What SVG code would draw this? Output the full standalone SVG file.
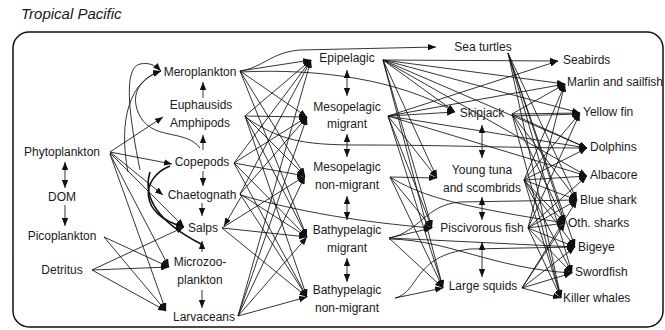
<svg xmlns="http://www.w3.org/2000/svg" width="665" height="330" viewBox="0 0 665 330">
<style>
text{font-family:"Liberation Sans",Arial,Helvetica,sans-serif;font-size:12px;fill:#1a1a1a}
.m{text-anchor:middle}
.t{font-size:15px;font-style:italic}
.e{fill:none;stroke:#111;stroke-width:0.85;marker-end:url(#a)}
.d{fill:none;stroke:#111;stroke-width:0.85;marker-end:url(#a);marker-start:url(#b)}
.c{fill:none;stroke:#111;stroke-width:0.85}
.k{stroke-width:1.6}
.fr{fill:none;stroke:#111;stroke-width:1.5}
</style>
<defs>
<marker id="a" viewBox="0 0 10 8" refX="10" refY="4" markerWidth="8" markerHeight="6.4" markerUnits="userSpaceOnUse" orient="auto"><path d="M0,0 L10,4 L0,8 z" fill="#111"/></marker>
<marker id="b" viewBox="0 0 10 8" refX="10" refY="4" markerWidth="8" markerHeight="6.4" markerUnits="userSpaceOnUse" orient="auto-start-reverse"><path d="M0,0 L10,4 L0,8 z" fill="#111"/></marker>
</defs>
<text class="t" x="21" y="19">Tropical Pacific</text>
<rect class="fr" x="13" y="32" width="650" height="295" rx="16"/>
<g id="connectors">
<!-- column 1 verticals -->
<path class="d" d="M65,162 L65,188"/>
<path class="e" d="M65,205 L65,226"/>
<!-- column 2 verticals -->
<path class="e" d="M203,98 L203,82"/>
<path class="e" d="M203,150 L203,135"/>
<path class="e" d="M203,171 L203,186"/>
<path class="e" d="M202,203 L202,216"/>
<path class="e" d="M202,252 L202,241"/>
<path class="e" d="M202,290 L202,308"/>
<!-- column 3 verticals -->
<path class="d" d="M347,70 L347,96"/>
<path class="d" d="M347,134 L347,157"/>
<path class="d" d="M347,196 L347,220"/>
<path class="d" d="M347,258 L347,282"/>
<!-- column 4 verticals -->
<path class="d" d="M482,125 L482,158"/>
<path class="d" d="M482,197 L482,220"/>
<path class="d" d="M482,242 L482,277"/>
<!-- col1 -> col2 -->
<path class="e" d="M110,152 L163,117"/>
<path class="e" d="M110,152 L172,164"/>
<path class="e" d="M110,152 L163,195"/>
<path class="e" d="M110,153 L184,227"/>
<path class="e" d="M110,154 L169,267"/>
<path class="e" d="M110,154 L166,311"/>
<path class="e" d="M104,237 L169,267"/>
<path class="e" d="M104,237 L166,311"/>
<path class="e" d="M92,270 L184,227"/>
<path class="e" d="M92,270 L169,267"/>
<path class="e" d="M92,270 L166,311"/>
<path class="e" d="M128,172 C118,120 130,80 161,71"/>
<path class="e" d="M140,170 C130,120 122,68 140,64 C150,62 156,66 161,71"/>
<path class="e" d="M200,148 C185,128 150,142 138,112 C130,92 142,78 161,71"/>
<path class="e k" d="M170,166 C140,178 138,215 184,227"/>
<path class="c k" d="M150,172 C140,205 170,228 201,244"/>
<!-- col2 -> col3 -->
<path class="e" d="M240,71 L311,60"/>
<path class="e" d="M240,71 L307,117"/>
<path class="e" d="M240,71 L305,176"/>
<path class="e" d="M240,71 L307,237"/>
<path class="e" d="M245,116 L311,60"/>
<path class="e" d="M245,116 L307,117"/>
<path class="e" d="M245,116 L305,176"/>
<path class="e" d="M245,116 L307,237"/>
<path class="e" d="M245,116 L307,297"/>
<path class="e" d="M234,163 L311,60"/>
<path class="e" d="M234,163 L307,117"/>
<path class="e" d="M234,163 L305,176"/>
<path class="e" d="M234,163 L307,237"/>
<path class="e" d="M234,163 L307,297"/>
<path class="e" d="M240,194 L311,60"/>
<path class="e" d="M240,194 L307,117"/>
<path class="e" d="M240,194 L307,237"/>
<path class="e" d="M240,194 L307,297"/>
<path class="e" d="M241,197 L224,226"/>
<path class="e" d="M222,228 L305,176"/>
<path class="e" d="M222,228 L307,237"/>
<path class="e" d="M222,228 L307,297"/>
<path class="e" d="M238,316 L311,60"/>
<path class="e" d="M238,316 L307,117"/>
<path class="e" d="M238,316 L305,176"/>
<path class="e" d="M238,316 L307,237"/>
<path class="e" d="M238,316 L307,297"/>
<!-- long curves col2 -> col4/5 -->
<path class="e" d="M240,71 C262,68 272,52 300,50 L436,47"/>
<path class="e" d="M240,72 C320,68 400,80 455,112"/>
<path class="e" d="M245,117 C280,140 300,145 360,145 C440,145 520,148 587,148"/>
<path class="e" d="M240,195 C300,212 360,222 432,228"/>
<!-- col3 -> col4 -->
<path class="e" d="M383,60 L455,112"/>
<path class="e" d="M383,60 L437,178"/>
<path class="e" d="M383,60 L432,228"/>
<path class="e" d="M383,60 L443,288"/>
<path class="e" d="M388,116 L455,112"/>
<path class="e" d="M388,116 L437,178"/>
<path class="e" d="M388,116 L432,228"/>
<path class="e" d="M388,116 L443,288"/>
<path class="e" d="M390,177 L437,178"/>
<path class="e" d="M390,177 L432,228"/>
<path class="e" d="M390,177 L443,288"/>
<path class="e" d="M389,238 L432,228"/>
<path class="e" d="M389,238 L443,288"/>
<path class="e" d="M395,298 L443,288"/>
<!-- col3 -> col5 -->
<path class="e" d="M383,60 L558,61"/>
<path class="e" d="M383,60 L565,84"/>
<path class="e" d="M383,60 L580,113"/>
<path class="e" d="M383,60 L587,148"/>
<path class="e" d="M383,60 L587,176"/>
<path class="e" d="M388,116 L558,61"/>
<path class="e" d="M388,116 L565,84"/>
<path class="e" d="M388,116 L587,148"/>
<path class="e" d="M388,116 L587,176"/>
<path class="e" d="M390,177 C420,195 450,205 565,223"/>
<path class="e" d="M389,238 L575,247"/>
<path class="e" d="M389,238 C420,232 425,205 460,202 L577,200"/>
<path class="e" d="M389,239 C450,240 490,268 572,273"/>
<path class="e" d="M395,298 C420,292 412,256 470,249 L575,247"/>
<!-- col4 -> col5 -->
<path class="e" d="M508,53 L577,200"/>
<path class="e" d="M508,53 L565,223"/>
<path class="e" d="M508,53 L575,247"/>
<path class="e" d="M508,53 L572,273"/>
<path class="e" d="M508,53 L561,298"/>
<path class="e" d="M512,114 L565,84"/>
<path class="e" d="M512,114 L580,113"/>
<path class="e" d="M512,116 L580,114"/>
<path class="e" d="M512,114 L587,148"/>
<path class="e" d="M512,114 L577,200"/>
<path class="e" d="M512,114 L565,223"/>
<path class="e" d="M512,114 L561,298"/>
<path class="e" d="M524,180 L565,84"/>
<path class="e" d="M524,180 L580,113"/>
<path class="e" d="M524,180 L587,148"/>
<path class="e" d="M524,180 L587,176"/>
<path class="e" d="M524,180 L577,200"/>
<path class="e" d="M524,180 L565,223"/>
<path class="e" d="M524,180 L575,247"/>
<path class="e" d="M524,180 L572,273"/>
<path class="e" d="M524,180 L561,298"/>
<path class="e" d="M528,228 L565,84"/>
<path class="e" d="M528,228 L580,113"/>
<path class="e" d="M528,228 L587,176"/>
<path class="e" d="M528,228 L577,200"/>
<path class="e" d="M528,228 L565,223"/>
<path class="e" d="M528,228 L575,247"/>
<path class="e" d="M528,228 L572,273"/>
<path class="e" d="M528,228 L561,298"/>
<path class="e" d="M522,288 L577,200"/>
<path class="e" d="M522,288 L565,223"/>
<path class="e" d="M522,288 L575,247"/>
<path class="e" d="M522,288 L572,273"/>
<path class="e" d="M522,288 L561,298"/>
</g>
<g id="phytoplankton"><text class="m" x="62" y="156">Phytoplankton</text></g>
<g id="dom"><text class="m" x="62" y="201">DOM</text></g>
<g id="picoplankton"><text class="m" x="62" y="240">Picoplankton</text></g>
<g id="detritus"><text class="m" x="62" y="274">Detritus</text></g>
<g id="meroplankton"><text class="m" x="200" y="76">Meroplankton</text></g>
<g id="euphausids"><text class="m" x="201" y="109">Euphausids</text><text class="m" x="200" y="127">Amphipods</text></g>
<g id="copepods"><text class="m" x="202" y="166">Copepods</text></g>
<g id="chaetognath"><text class="m" x="202" y="199">Chaetognath</text></g>
<g id="salps"><text class="m" x="203" y="232">Salps</text></g>
<g id="microzooplankton"><text class="m" x="200" y="266">Microzoo-</text><text class="m" x="200" y="284">plankton</text></g>
<g id="larvaceans"><text class="m" x="204" y="321">Larvaceans</text></g>
<g id="epipelagic"><text class="m" x="347" y="62">Epipelagic</text></g>
<g id="meso-migrant"><text class="m" x="347" y="111">Mesopelagic</text><text class="m" x="347" y="128">migrant</text></g>
<g id="meso-nonmigrant"><text class="m" x="347" y="171">Mesopelagic</text><text class="m" x="347" y="189">non-migrant</text></g>
<g id="bathy-migrant"><text class="m" x="347" y="234">Bathypelagic</text><text class="m" x="347" y="252">migrant</text></g>
<g id="bathy-nonmigrant"><text class="m" x="347" y="294">Bathypelagic</text><text class="m" x="347" y="312">non-migrant</text></g>
<g id="sea-turtles"><text class="m" x="483" y="51">Sea turtles</text></g>
<g id="skipjack"><text class="m" x="482" y="117">Skipjack</text></g>
<g id="young-tuna"><text class="m" x="482" y="174">Young tuna</text><text class="m" x="482" y="192">and scombrids</text></g>
<g id="piscivorous-fish"><text class="m" x="482" y="232">Piscivorous fish</text></g>
<g id="large-squids"><text class="m" x="483" y="290">Large squids</text></g>
<g id="seabirds"><text x="563" y="64">Seabirds</text></g>
<g id="marlin"><text x="567" y="86">Marlin and sailfish</text></g>
<g id="yellow-fin"><text x="583" y="116">Yellow fin</text></g>
<g id="dolphins"><text x="590" y="151">Dolphins</text></g>
<g id="albacore"><text x="590" y="179">Albacore</text></g>
<g id="blue-shark"><text x="580" y="204">Blue shark</text></g>
<g id="oth-sharks"><text x="568" y="227">Oth. sharks</text></g>
<g id="bigeye"><text x="578" y="251">Bigeye</text></g>
<g id="swordfish"><text x="575" y="276">Swordfish</text></g>
<g id="killer-whales"><text x="563" y="302">Killer whales</text></g>
</svg>
